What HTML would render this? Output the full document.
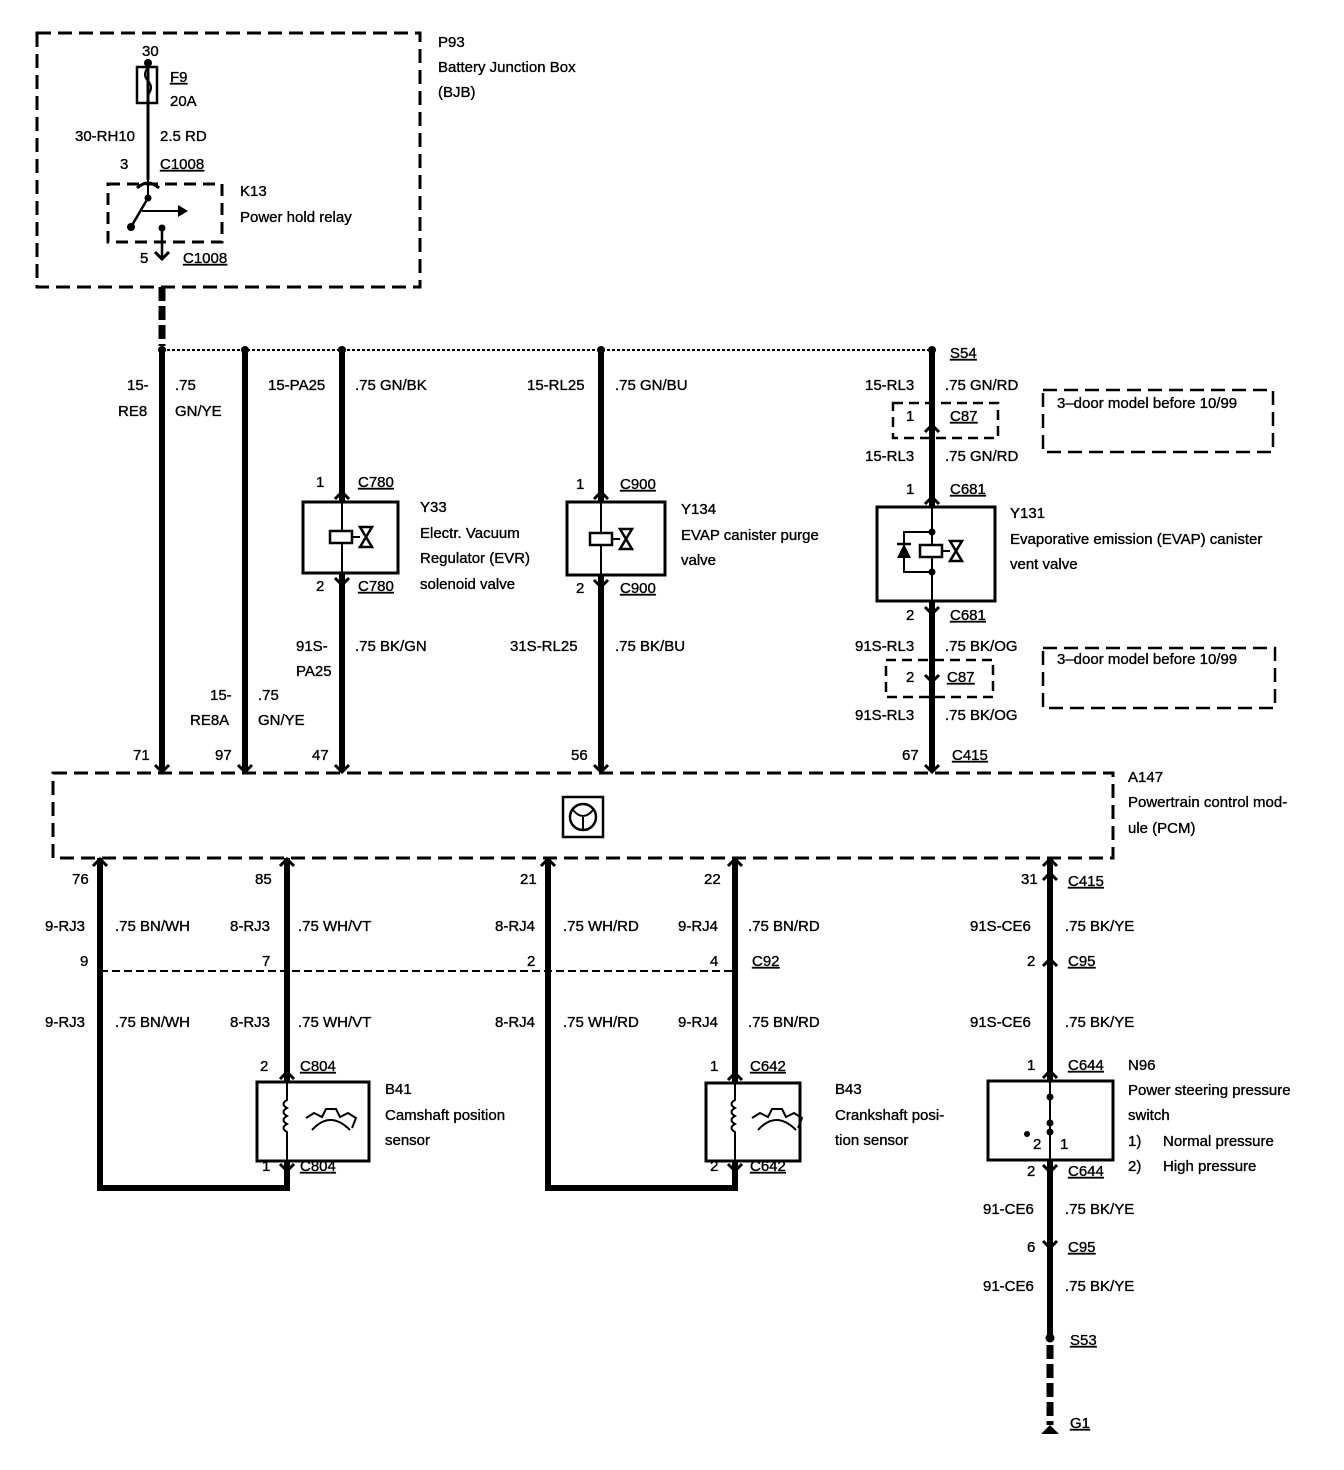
<!DOCTYPE html>
<html><head><meta charset="utf-8"><style>
html,body{margin:0;padding:0;background:#fff}
svg{display:block}
text{font-family:"Liberation Sans",Arial,sans-serif;font-size:15px;fill:#000;stroke:#000;stroke-width:0.35;dominant-baseline:middle}
.u{text-decoration:underline}
</style></head><body>
<svg width="1344" height="1470" viewBox="0 0 1344 1470" xmlns="http://www.w3.org/2000/svg">
<g fill="none" stroke="#000">
<rect x="37" y="33" width="383" height="254" stroke-width="3" stroke-dasharray="14,7"/>
<line x1="148" y1="63" x2="148" y2="180" stroke-width="3"/>
<rect x="137" y="67" width="20" height="36" stroke-width="2.5"/>
<path d="M148 67 q-6 8 0 14 q6 6 0 14 v8" stroke-width="2"/>
<path d="M137 188 q11 -10 22 0" stroke-width="3"/>
<rect x="108" y="184" width="114" height="58" stroke-width="3" stroke-dasharray="12,7"/>
<line x1="148" y1="180" x2="148" y2="198" stroke-width="2"/>
<line x1="148" y1="198" x2="131" y2="227" stroke-width="2.5"/>
<line x1="142" y1="211" x2="178" y2="211" stroke-width="2"/>
<line x1="162" y1="228" x2="162" y2="258" stroke-width="2.5"/>
<path d="M155 252 L162 259 L169 252" stroke-width="3"/>
<line x1="162" y1="287" x2="162" y2="346" stroke-width="7" stroke-dasharray="14,5"/>
<line x1="162" y1="350" x2="932" y2="350" stroke-width="2" stroke-dasharray="3,2"/>
<line x1="162" y1="350" x2="162" y2="770" stroke-width="6"/>
<line x1="245" y1="350" x2="245" y2="770" stroke-width="6"/>
<line x1="342" y1="350" x2="342" y2="502" stroke-width="6"/>
<line x1="342" y1="573" x2="342" y2="770" stroke-width="6"/>
<line x1="601" y1="350" x2="601" y2="502" stroke-width="6"/>
<line x1="601" y1="575" x2="601" y2="770" stroke-width="6"/>
<line x1="932" y1="350" x2="932" y2="507" stroke-width="6"/>
<line x1="932" y1="601" x2="932" y2="770" stroke-width="6"/>
<rect x="893" y="403" width="105" height="35" stroke-width="2.5" stroke-dasharray="10,6"/>
<rect x="1043" y="390" width="230" height="62" stroke-width="2.5" stroke-dasharray="14,7"/>
<rect x="886" y="660" width="107" height="37" stroke-width="2.5" stroke-dasharray="10,6"/>
<rect x="1043" y="648" width="232" height="60" stroke-width="2.5" stroke-dasharray="14,7"/>
<rect x="303" y="502" width="95" height="71" stroke-width="3"/>
<line x1="342" y1="502" x2="342" y2="573" stroke-width="2"/>
<rect x="330" y="531" width="22" height="12" stroke-width="2.5" fill="#fff"/>
<line x1="352" y1="537" x2="360" y2="537" stroke-width="2"/>
<path d="M360 527 L372 527 L360 547 L372 547 Z" stroke-width="2.5"/>
<rect x="567" y="502" width="98" height="73" stroke-width="3"/>
<line x1="601" y1="502" x2="601" y2="575" stroke-width="2"/>
<rect x="590" y="533" width="22" height="12" stroke-width="2.5" fill="#fff"/>
<line x1="612" y1="539" x2="620" y2="539" stroke-width="2"/>
<path d="M620 529 L632 529 L620 549 L632 549 Z" stroke-width="2.5"/>
<rect x="877" y="507" width="118" height="94" stroke-width="3"/>
<line x1="932" y1="507" x2="932" y2="601" stroke-width="2"/>
<path d="M932 532 H904 V572 H932" stroke-width="2"/>
<rect x="920" y="545" width="22" height="12" stroke-width="2.5" fill="#fff"/>
<line x1="942" y1="551" x2="950" y2="551" stroke-width="2"/>
<path d="M950 541 L962 541 L950 561 L962 561 Z" stroke-width="2.5"/>
<line x1="897" y1="544" x2="911" y2="544" stroke-width="2.5"/>
<rect x="53" y="773" width="1060" height="85" stroke-width="3" stroke-dasharray="14,7"/>
<rect x="563" y="797" width="40" height="40" stroke-width="2.5"/>
<circle cx="583" cy="817" r="13" stroke-width="2.5"/>
<path d="M573 810 Q583 822 593 810 M583 817 V830" stroke-width="2"/>
<path d="M100 858 V1188 H287 V1162" stroke-width="6"/>
<line x1="287" y1="858" x2="287" y2="1082" stroke-width="6"/>
<path d="M548 858 V1188 H735 V1161" stroke-width="6"/>
<line x1="735" y1="858" x2="735" y2="1083" stroke-width="6"/>
<line x1="1050" y1="858" x2="1050" y2="1081" stroke-width="6"/>
<line x1="1050" y1="1160" x2="1050" y2="1338" stroke-width="6"/>
<line x1="1050" y1="1345" x2="1050" y2="1425" stroke-width="7" stroke-dasharray="14,5"/>
<line x1="100" y1="971" x2="735" y2="971" stroke-width="2" stroke-dasharray="8,4"/>
<rect x="257" y="1082" width="112" height="79" stroke-width="3"/>
<path d="M287 1082 V1100 q-7 4 0 8 q-7 4 0 8 q-7 4 0 8 q-7 4 0 8 V1161" stroke-width="2"/>
<path d="M306 1118 l8 -5 l8 4 l4 -8 l10 0 l4 8 l8 -4 l8 5 l-4 10 M312 1130 q18 -20 38 0" stroke-width="2"/>
<rect x="706" y="1083" width="94" height="78" stroke-width="3"/>
<path d="M735 1083 V1100 q-7 4 0 8 q-7 4 0 8 q-7 4 0 8 q-7 4 0 8 V1161" stroke-width="2"/>
<path d="M752 1118 l8 -5 l8 4 l4 -8 l10 0 l4 8 l8 -4 l8 5 l-4 10 M758 1130 q18 -20 38 0" stroke-width="2"/>
<rect x="988" y="1081" width="125" height="79" stroke-width="3"/>
<line x1="1050" y1="1081" x2="1050" y2="1160" stroke-width="2"/>
<g stroke-width="3">
<path d="M335 499 L342 492 L349 499"/><path d="M594 499 L601 492 L608 499"/><path d="M925 504 L932 497 L939 504"/>
<path d="M925 432 L932 425 L939 432"/><path d="M280 1079 L287 1072 L294 1079"/><path d="M728 1080 L735 1073 L742 1080"/>
<path d="M1043 1078 L1050 1071 L1057 1078"/><path d="M1043 966 L1050 959 L1057 966"/><path d="M1043 880 L1050 873 L1057 880"/>
<path d="M335 578 L342 585 L349 578"/><path d="M594 580 L601 587 L608 580"/><path d="M925 607 L932 614 L939 607"/>
<path d="M925 675 L932 682 L939 675"/><path d="M280 1164 L287 1171 L294 1164"/><path d="M728 1164 L735 1171 L742 1164"/>
<path d="M1043 1165 L1050 1172 L1057 1165"/><path d="M1043 1241 L1050 1248 L1057 1241"/>
<path d="M155 765 L162 772 L169 765"/><path d="M238 765 L245 772 L252 765"/><path d="M335 765 L342 772 L349 765"/>
<path d="M594 765 L601 772 L608 765"/><path d="M925 765 L932 772 L939 765"/>
<path d="M93 866 L100 859 L107 866"/><path d="M280 866 L287 859 L294 866"/><path d="M541 866 L548 859 L555 866"/>
<path d="M728 866 L735 859 L742 866"/><path d="M1043 866 L1050 859 L1057 866"/>
</g>
</g>
<g fill="#000">
<circle cx="148" cy="63" r="4"/><circle cx="148" cy="198" r="3.5"/><circle cx="131" cy="227" r="4"/><circle cx="162" cy="228" r="3.5"/>
<path d="M178 205 L188 211 L178 217 Z"/>
<circle cx="162" cy="350" r="4"/><circle cx="245" cy="350" r="4"/><circle cx="342" cy="350" r="4"/><circle cx="601" cy="350" r="4"/><circle cx="932" cy="350" r="4"/>
<circle cx="932" cy="532" r="3.5"/><circle cx="932" cy="572" r="3.5"/>
<path d="M897 558 L904 544 L911 558 Z"/>
<circle cx="1050" cy="1097" r="3.5"/><circle cx="1050" cy="1123" r="3.5"/><circle cx="1050" cy="1132" r="3.5"/><circle cx="1027" cy="1134" r="3"/>
<circle cx="1050" cy="1338" r="4.5"/>
<path d="M1041 1434 L1050 1425 L1059 1434 Z"/>
</g>
<g>
<text x="142" y="52">30</text><text x="170" y="78" class="u">F9</text><text x="170" y="102">20A</text>
<text x="75" y="137">30-RH10</text><text x="160" y="137">2.5 RD</text>
<text x="120" y="165">3</text><text x="160" y="165" class="u">C1008</text>
<text x="240" y="192">K13</text><text x="240" y="218">Power hold relay</text>
<text x="140" y="259">5</text><text x="183" y="259" class="u">C1008</text>
<text x="438" y="43">P93</text><text x="438" y="68">Battery Junction Box</text><text x="438" y="93">(BJB)</text>
<text x="127" y="386">15-</text><text x="118" y="412">RE8</text><text x="175" y="386">.75</text><text x="175" y="412">GN/YE</text>
<text x="268" y="386">15-PA25</text><text x="355" y="386">.75 GN/BK</text>
<text x="527" y="386">15-RL25</text><text x="615" y="386">.75 GN/BU</text>
<text x="950" y="354" class="u">S54</text>
<text x="865" y="386">15-RL3</text><text x="945" y="386">.75 GN/RD</text>
<text x="906" y="417">1</text><text x="950" y="417" class="u">C87</text>
<text x="1057" y="404">3–door model before 10/99</text>
<text x="865" y="457">15-RL3</text><text x="945" y="457">.75 GN/RD</text>
<text x="316" y="483">1</text><text x="358" y="483" class="u">C780</text>
<text x="420" y="508">Y33</text><text x="420" y="534">Electr. Vacuum</text><text x="420" y="559">Regulator (EVR)</text><text x="420" y="585">solenoid valve</text>
<text x="316" y="587">2</text><text x="358" y="587" class="u">C780</text>
<text x="576" y="485">1</text><text x="620" y="485" class="u">C900</text>
<text x="681" y="510">Y134</text><text x="681" y="536">EVAP canister purge</text><text x="681" y="561">valve</text>
<text x="576" y="589">2</text><text x="620" y="589" class="u">C900</text>
<text x="906" y="490">1</text><text x="950" y="490" class="u">C681</text>
<text x="1010" y="514">Y131</text><text x="1010" y="540">Evaporative emission (EVAP) canister</text><text x="1010" y="565">vent valve</text>
<text x="906" y="616">2</text><text x="950" y="616" class="u">C681</text>
<text x="296" y="647">91S-</text><text x="296" y="672">PA25</text><text x="355" y="647">.75 BK/GN</text>
<text x="510" y="647">31S-RL25</text><text x="615" y="647">.75 BK/BU</text>
<text x="855" y="647">91S-RL3</text><text x="945" y="647">.75 BK/OG</text>
<text x="906" y="678">2</text><text x="947" y="678" class="u">C87</text>
<text x="1057" y="660">3–door model before 10/99</text>
<text x="855" y="716">91S-RL3</text><text x="945" y="716">.75 BK/OG</text>
<text x="210" y="696">15-</text><text x="190" y="721">RE8A</text><text x="258" y="696">.75</text><text x="258" y="721">GN/YE</text>
<text x="133" y="756">71</text><text x="215" y="756">97</text><text x="312" y="756">47</text><text x="571" y="756">56</text><text x="902" y="756">67</text><text x="952" y="756" class="u">C415</text>
<text x="1128" y="778">A147</text><text x="1128" y="803">Powertrain control mod-</text><text x="1128" y="829">ule (PCM)</text>
<text x="72" y="880">76</text><text x="255" y="880">85</text><text x="520" y="880">21</text><text x="704" y="880">22</text><text x="1021" y="880">31</text><text x="1068" y="882" class="u">C415</text>
<text x="45" y="927">9-RJ3</text><text x="115" y="927">.75 BN/WH</text><text x="230" y="927">8-RJ3</text><text x="298" y="927">.75 WH/VT</text>
<text x="495" y="927">8-RJ4</text><text x="563" y="927">.75 WH/RD</text><text x="678" y="927">9-RJ4</text><text x="748" y="927">.75 BN/RD</text>
<text x="970" y="927">91S-CE6</text><text x="1065" y="927">.75 BK/YE</text>
<text x="80" y="962">9</text><text x="262" y="962">7</text><text x="527" y="962">2</text><text x="710" y="962">4</text><text x="752" y="962" class="u">C92</text>
<text x="1027" y="962">2</text><text x="1068" y="962" class="u">C95</text>
<text x="45" y="1023">9-RJ3</text><text x="115" y="1023">.75 BN/WH</text><text x="230" y="1023">8-RJ3</text><text x="298" y="1023">.75 WH/VT</text>
<text x="495" y="1023">8-RJ4</text><text x="563" y="1023">.75 WH/RD</text><text x="678" y="1023">9-RJ4</text><text x="748" y="1023">.75 BN/RD</text>
<text x="970" y="1023">91S-CE6</text><text x="1065" y="1023">.75 BK/YE</text>
<text x="260" y="1067">2</text><text x="300" y="1067" class="u">C804</text>
<text x="385" y="1090">B41</text><text x="385" y="1116">Camshaft position</text><text x="385" y="1141">sensor</text>
<text x="262" y="1167">1</text><text x="300" y="1167" class="u">C804</text>
<text x="710" y="1067">1</text><text x="750" y="1067" class="u">C642</text>
<text x="835" y="1090">B43</text><text x="835" y="1116">Crankshaft posi-</text><text x="835" y="1141">tion sensor</text>
<text x="710" y="1167">2</text><text x="750" y="1167" class="u">C642</text>
<text x="1027" y="1066">1</text><text x="1068" y="1066" class="u">C644</text>
<text x="1033" y="1145">2</text><text x="1060" y="1145">1</text>
<text x="1128" y="1066">N96</text><text x="1128" y="1091">Power steering pressure</text><text x="1128" y="1116">switch</text>
<text x="1128" y="1142">1)</text><text x="1163" y="1142">Normal pressure</text><text x="1128" y="1167">2)</text><text x="1163" y="1167">High pressure</text>
<text x="1027" y="1172">2</text><text x="1068" y="1172" class="u">C644</text>
<text x="983" y="1210">91-CE6</text><text x="1065" y="1210">.75 BK/YE</text>
<text x="1027" y="1248">6</text><text x="1068" y="1248" class="u">C95</text>
<text x="983" y="1287">91-CE6</text><text x="1065" y="1287">.75 BK/YE</text>
<text x="1070" y="1341" class="u">S53</text><text x="1070" y="1424" class="u">G1</text>
</g>
</svg>
</body></html>
